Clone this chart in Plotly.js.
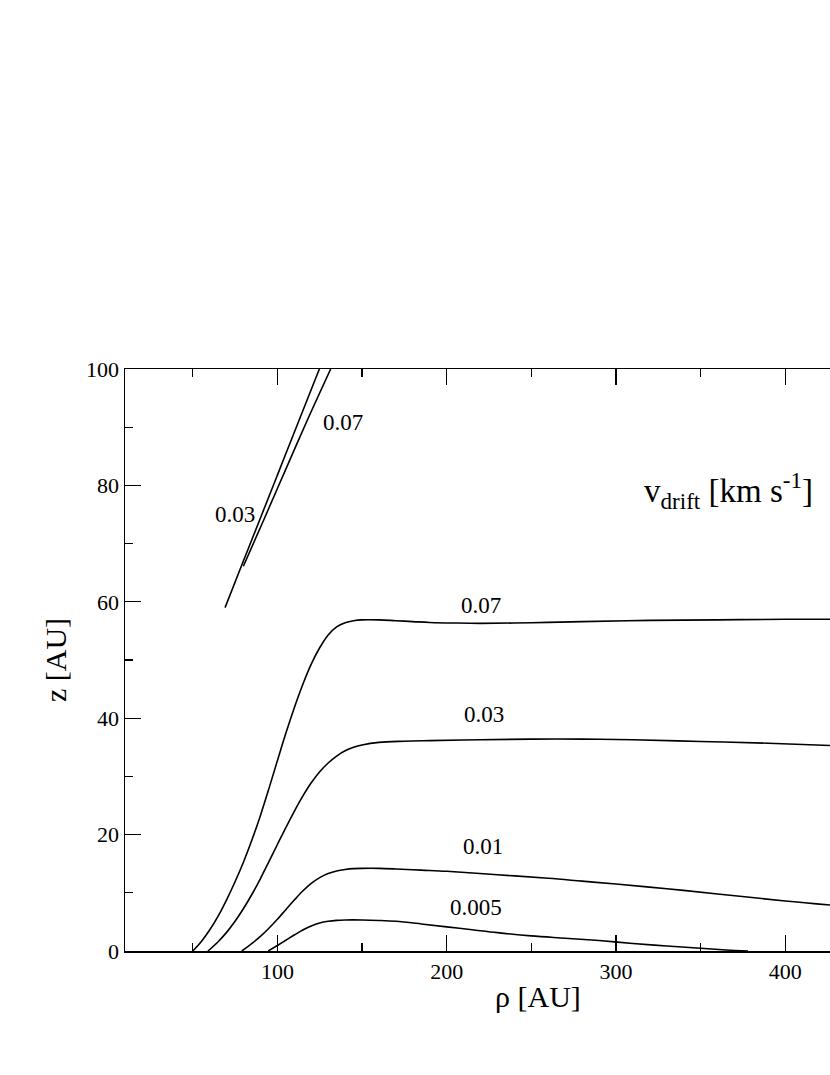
<!DOCTYPE html>
<html>
<head>
<meta charset="utf-8">
<script src="https://cdn.plot.ly/plotly-3.0.1.min.js"></script>
<style>
html,body{margin:0;padding:0;background:#fff;overflow:hidden;}
#chart{width:830px;height:1075px;}
</style>
</head>
<body>
<div id="chart"></div>
<script>
// rho [AU] and z [AU] for each drift-velocity contour
const rho_0005 = [94.6, 100, 105, 110, 115, 120, 125, 130, 135, 140, 150, 160, 170, 185, 200, 215, 230, 250, 270, 290, 310, 330, 350, 365, 378];
const z_0005   = [0, 0.95, 1.85, 2.75, 3.6, 4.3, 4.8, 5.1, 5.27, 5.33, 5.33, 5.25, 5.1, 4.65, 4.15, 3.65, 3.15, 2.6, 2.2, 1.8, 1.3, 0.86, 0.46, 0.18, 0];

const rho_001 = [79, 85, 90, 95, 100, 105, 110, 115, 120, 125, 130, 135, 140, 145, 150, 160, 170, 185, 200, 230, 260, 280, 300, 330, 360, 400, 426.5];
const z_001   = [0, 1.3, 2.5, 3.9, 5.45, 7.1, 8.75, 10.3, 11.6, 12.6, 13.3, 13.75, 14.0, 14.15, 14.2, 14.2, 14.1, 13.9, 13.7, 13.1, 12.5, 12.0, 11.5, 10.7, 9.8, 8.6, 7.9];

const rho_003 = [59, 65, 70, 75, 80, 85, 90, 95, 100, 105, 110, 115, 120, 125, 130, 135, 140, 145, 150, 160, 175, 190, 220, 250, 280, 310, 350, 390, 426.5];
const z_003   = [0, 1.6, 3.2, 5.1, 7.3, 9.75, 12.45, 15.35, 18.3, 21.2, 24.0, 26.6, 28.9, 30.8, 32.3, 33.5, 34.4, 35.0, 35.4, 35.85, 36.05, 36.15, 36.3, 36.4, 36.4, 36.3, 36.0, 35.7, 35.3];

const rho_007 = [50, 55, 60, 65, 70, 75, 80, 85, 90, 95, 100, 105, 110, 115, 120, 125, 130, 135, 140, 145, 150, 160, 170, 180, 190, 205, 220, 250, 280, 320, 360, 400, 426.5];
const z_007   = [0, 1.6, 3.6, 6.0, 8.8, 11.9, 15.3, 19.1, 23.3, 27.9, 32.7, 37.4, 41.8, 45.8, 49.3, 52.1, 54.3, 55.7, 56.4, 56.75, 56.9, 56.9, 56.75, 56.6, 56.45, 56.35, 56.3, 56.4, 56.6, 56.8, 56.9, 57.0, 57.0];

// upper branches
const rho_003_up = [69.1, 79.5, 90, 101, 112, 124.8];
const z_003_up   = [59.0, 66.7, 74.4, 82.5, 90.6, 100];
const rho_007_up = [79.9, 92, 105, 118, 131.5];
const z_007_up   = [66.1, 74.1, 82.8, 91.4, 100];

// contour labels
const labelText = ['0.005', '0.01', '0.03', '0.07', '0.03', '0.07'];
const labelRho  = [217.1, 221.6, 221.9, 220.1, 75.0, 138.6];
const labelZ    = [7.4, 17.95, 40.6, 59.4, 75.0, 90.8];

const xTickVals = [100, 200, 300, 400];
const yTickVals = [0, 20, 40, 60, 80, 100];

const FONT = 'Liberation Serif, Times New Roman, serif';
const lineStyle = {color: '#000', width: 1.6, shape: 'spline', smoothing: 1};

const series = [
  [rho_0005, z_0005], [rho_001, z_001], [rho_003, z_003], [rho_007, z_007],
  [rho_003_up, z_003_up], [rho_007_up, z_007_up]
];
const traces = series.map(s => ({
  x: s[0], y: s[1], type: 'scatter', mode: 'lines',
  line: lineStyle, showlegend: false, hoverinfo: 'skip', cliponaxis: true
}));

const annotations = labelText.map((t, i) => ({
  x: labelRho[i], y: labelZ[i], xref: 'x', yref: 'y', text: t,
  showarrow: false, font: {family: FONT, size: 23, color: '#000'},
  xanchor: 'center', yanchor: 'middle'
}));
annotations.push({
  x: 0.586, y: -0.078, xref: 'paper', yref: 'paper', text: 'ρ [AU]',
  showarrow: false, font: {family: FONT, size: 30, color: '#000'},
  xanchor: 'center', yanchor: 'middle'
});
annotations.push({
  x: 0.856, y: 0.792, xref: 'paper', yref: 'paper',
  text: 'v<sub>drift</sub> [km s<sup>-1</sup>]',
  showarrow: false, font: {family: FONT, size: 33, color: '#000'},
  xanchor: 'center', yanchor: 'middle'
});

const layout = {
  width: 830, height: 1075,
  margin: {l: 125, r: 0, t: 369, b: 124, pad: 0},
  paper_bgcolor: '#fff', plot_bgcolor: '#fff',
  font: {family: FONT, color: '#000'},
  showlegend: false,
  xaxis: {
    range: [10, 426.4], showgrid: false, zeroline: false,
    showline: true, linecolor: '#000', linewidth: 1.5, mirror: 'ticks',
    ticks: 'inside', ticklen: 16, tickwidth: 1.3, tickcolor: '#000',
    tickvals: xTickVals, ticktext: xTickVals.map(String),
    minor: {tickvals: [50, 150, 250, 350], ticks: 'inside', ticklen: 8, tickwidth: 1.3, tickcolor: '#000'},
    tickfont: {family: FONT, size: 22, color: '#000'}
  },
  yaxis: {
    range: [0, 100], showgrid: false, zeroline: false,
    showline: true, linecolor: '#000', linewidth: 1.5, mirror: false,
    ticks: 'inside', ticklen: 16, tickwidth: 1.3, tickcolor: '#000',
    tickvals: yTickVals, ticktext: yTickVals.map(String),
    minor: {tickvals: [10, 30, 50, 70, 90], ticks: 'inside', ticklen: 8, tickwidth: 1.3, tickcolor: '#000'},
    tickfont: {family: FONT, size: 22, color: '#000'},
    title: {text: 'z [AU]', font: {family: FONT, size: 30, color: '#000'}, standoff: 10}
  },
  annotations: annotations
};

Plotly.newPlot('chart', traces, layout, {staticPlot: true, displayModeBar: false});
</script>
</body>
</html>
